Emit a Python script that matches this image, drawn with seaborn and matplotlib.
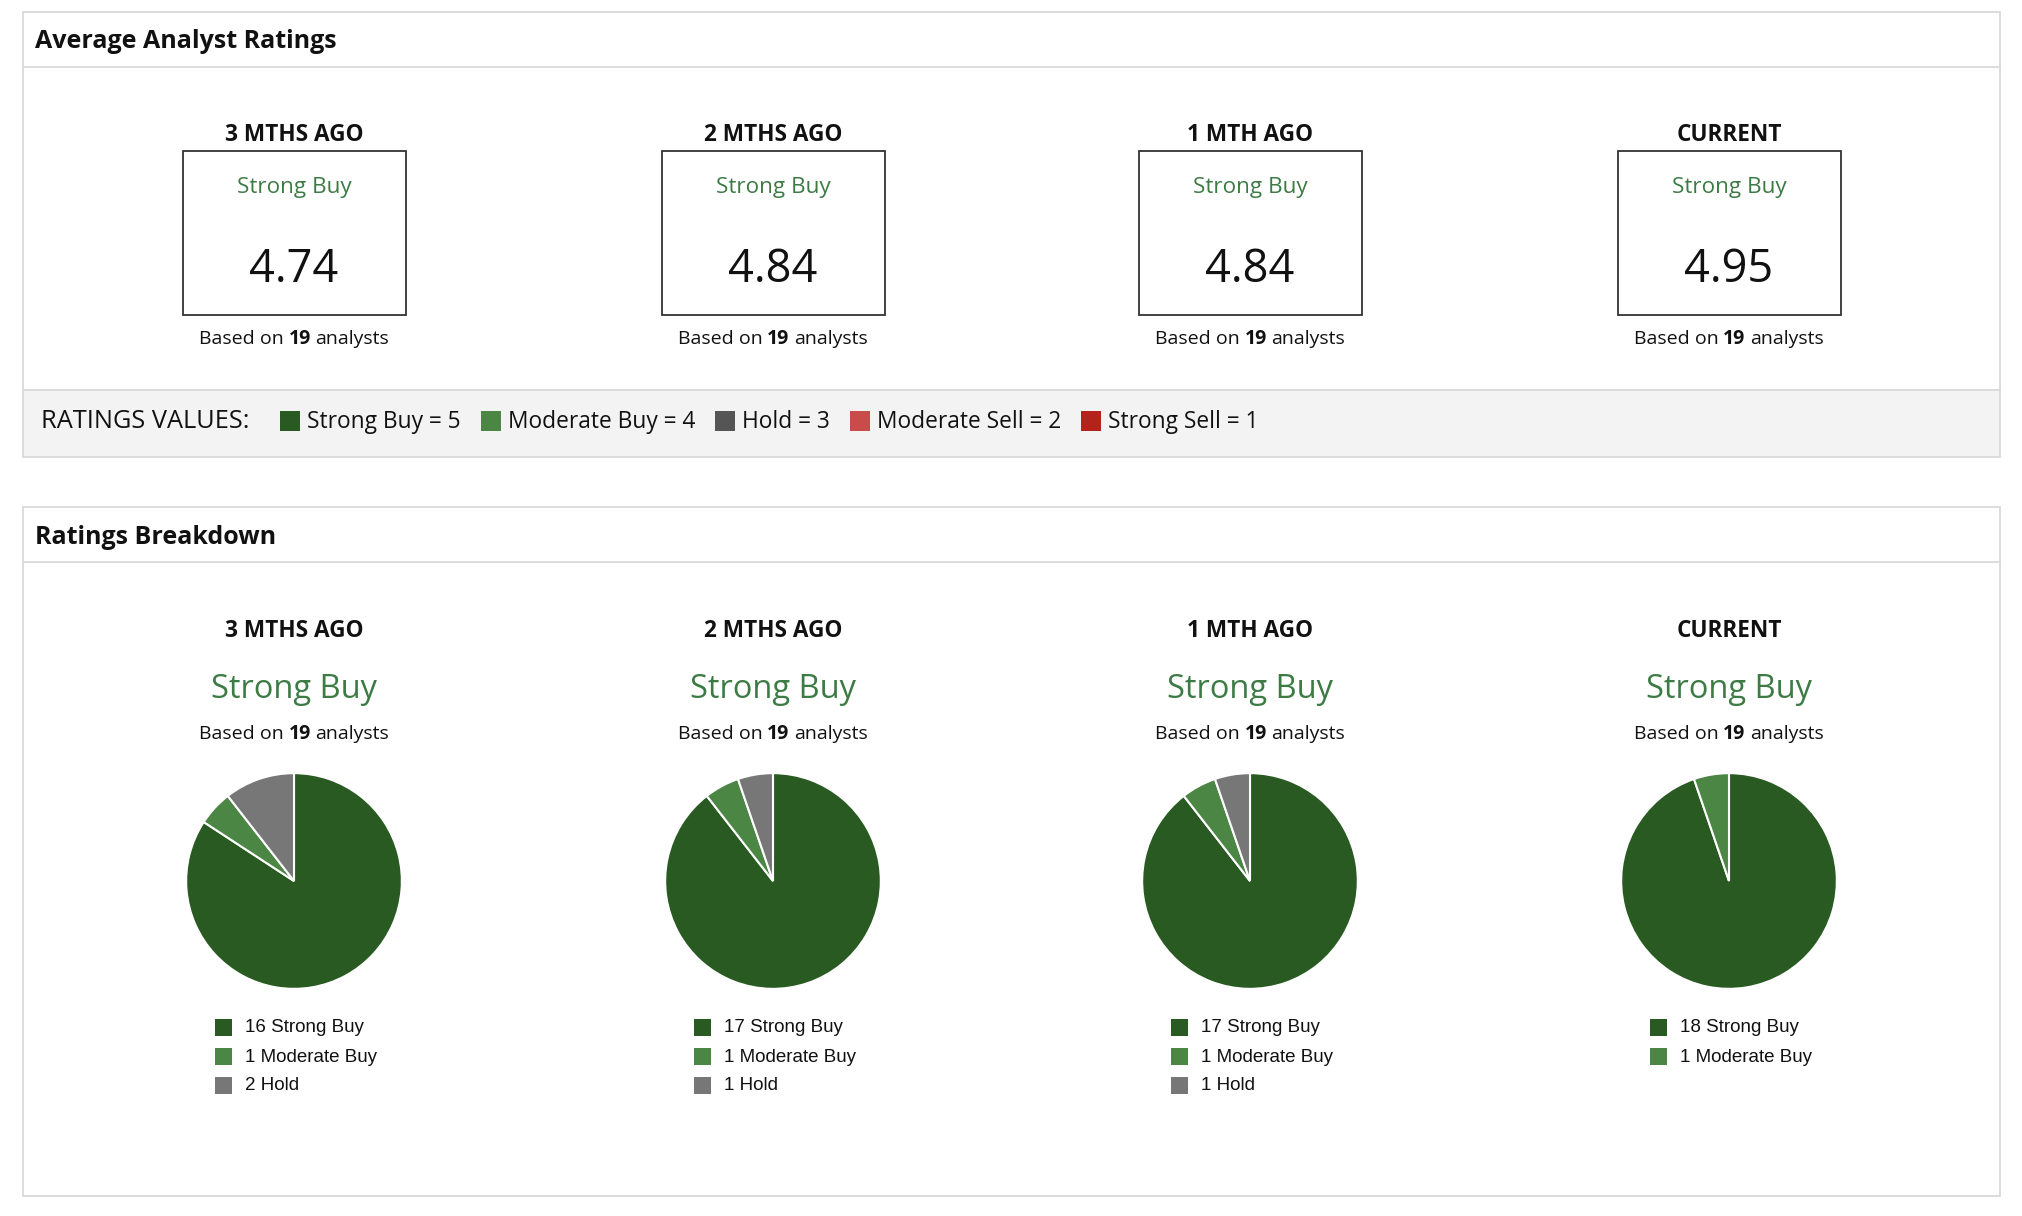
import matplotlib
matplotlib.use("Agg")
import matplotlib.pyplot as plt
from matplotlib.patches import Rectangle
import seaborn as sns

# ---------------- data ----------------
periods = ["3 MTHS AGO", "2 MTHS AGO", "1 MTH AGO", "CURRENT"]
avg_ratings = [4.74, 4.84, 4.84, 4.95]
consensus = ["Strong Buy", "Strong Buy", "Strong Buy", "Strong Buy"]
analyst_counts = [19, 19, 19, 19]

rating_names = ["Strong Buy", "Moderate Buy", "Hold", "Moderate Sell", "Strong Sell"]
rating_values = [5, 4, 3, 2, 1]
strong_buy = [16, 17, 17, 18]
moderate_buy = [1, 1, 1, 1]
hold = [2, 1, 1, 0]
moderate_sell = [0, 0, 0, 0]
strong_sell = [0, 0, 0, 0]

legend_colors = ["#285a22", "#4b8644", "#555555", "#c94b4a", "#b3231b"]
pie_colors = ["#285a22", "#4b8644", "#777777", "#c94b4a", "#b3231b"]
text_green = "#3d7b45"

# ---------------- setup ----------------
sns.set_theme(style="white")
plt.rcParams["font.family"] = ["Open Sans", "DejaVu Sans"]

W, H = 2022, 1216
fig = plt.figure(figsize=(W / 100, H / 100), dpi=100)
ax = fig.add_axes([0, 0, 1, 1])
ax.set_xlim(0, W)
ax.set_ylim(H, 0)
ax.axis("off")
r = fig.canvas.get_renderer()


def measure(s, **kw):
    t = ax.text(0, 0, s, **kw)
    w = t.get_window_extent(r).width
    t.remove()
    return w


def rich_center(cx, y, segs, **kw):
    sp = (measure("x x", **kw) - measure("xx", **kw)) * 0.85
    widths = [measure(s, fontweight=w, **kw) for s, w in segs]
    total = sum(widths) + sp * (len(segs) - 1)
    x = cx - total / 2
    for (s, w), wd in zip(segs, widths):
        ax.text(x, y, s, fontweight=w, ha="left", va="center", **kw)
        x += wd + sp


border = "#d9d9d9"
col_x = [294, 773, 1250, 1729]
left, right = 23, 2000

# ---------------- panel 1 ----------------
ax.add_patch(Rectangle((left, 390), right - left, 67, fc="#f3f3f3", ec="none"))
ax.add_patch(Rectangle((left, 12), right - left, 445, fill=False, ec=border, lw=1.3))
ax.plot([left, right], [67, 67], color=border, lw=1.3)
ax.plot([left, right], [390, 390], color=border, lw=1.3)
ax.text(35, 41, "Average Analyst Ratings", fontsize=18, fontweight="bold",
        ha="left", va="center", color="#111111")

for i, cx in enumerate(col_x):
    ax.text(cx, 135, periods[i], fontsize=16.3, fontweight="bold", ha="center",
            va="center", color="#111111")
    ax.add_patch(Rectangle((cx - 111.5, 151), 223, 164, fill=False, ec="#333333", lw=1.3))
    ax.text(cx, 187, consensus[i], fontsize=16.2, ha="center", va="center", color=text_green)
    ax.text(cx, 270, f"{avg_ratings[i]:.2f}", fontsize=32.5, ha="center", va="center",
            color="#111111")
    rich_center(cx, 339, [("Based on", "normal"), (str(analyst_counts[i]), "bold"),
                          ("analysts", "normal")], fontsize=14, color="#111111")

# ratings values band
ax.text(41, 422, "RATINGS VALUES:", fontsize=18.3, ha="left", va="center", color="#111111")
x = 280
for name, val, colr in zip(rating_names, rating_values, legend_colors):
    ax.add_patch(Rectangle((x, 411), 20, 20, fc=colr, ec="none"))
    lab = f"{name} = {val}"
    ax.text(x + 27, 422, lab, fontsize=16.4, ha="left", va="center", color="#111111")
    x += 27 + measure(lab, fontsize=16.4) + 20

# ---------------- panel 2 ----------------
ax.add_patch(Rectangle((left, 507), right - left, 689, fill=False, ec=border, lw=1.3))
ax.plot([left, right], [562, 562], color=border, lw=1.3)
ax.text(35, 538, "Ratings Breakdown", fontsize=18, fontweight="bold",
        ha="left", va="center", color="#111111")

counts = [strong_buy, moderate_buy, hold, moderate_sell, strong_sell]
pie_r = 110
pie_cy = 881
for i, cx in enumerate(col_x):
    ax.text(cx, 631, periods[i], fontsize=16.3, fontweight="bold", ha="center",
            va="center", color="#111111")
    ax.text(cx, 690, consensus[i], fontsize=23.5, ha="center", va="center", color=text_green)
    rich_center(cx, 734, [("Based on", "normal"), (str(analyst_counts[i]), "bold"),
                          ("analysts", "normal")], fontsize=14, color="#111111")

    vals = [c[i] for c in counts]
    names = [n for n, v in zip(rating_names, vals) if v > 0]
    cols = [c for c, v in zip(pie_colors, vals) if v > 0]
    vv = [v for v in vals if v > 0]

    pax = fig.add_axes([(cx - pie_r) / W, 1 - (pie_cy + pie_r) / H, 2 * pie_r / W, 2 * pie_r / H])
    pax.pie(vv, colors=cols, startangle=90, counterclock=False,
            wedgeprops=dict(edgecolor="white", linewidth=1.5))
    pax.set_xlim(-1.02, 1.02)
    pax.set_ylim(-1.02, 1.02)
    pax.axis("off")

    for j, (n, v, c) in enumerate(zip(names, vv, cols)):
        yy = 1028 + j * 29
        ax.add_patch(Rectangle((cx - 79, yy - 9), 17, 17, fc=c, ec="none"))
        ax.text(cx - 49, yy, f"{v} {n}", fontsize=13.5, ha="left", va="center",
                color="#111111", family=["Liberation Sans", "DejaVu Sans"])

fig.savefig("out.png", dpi=100, facecolor="white")
